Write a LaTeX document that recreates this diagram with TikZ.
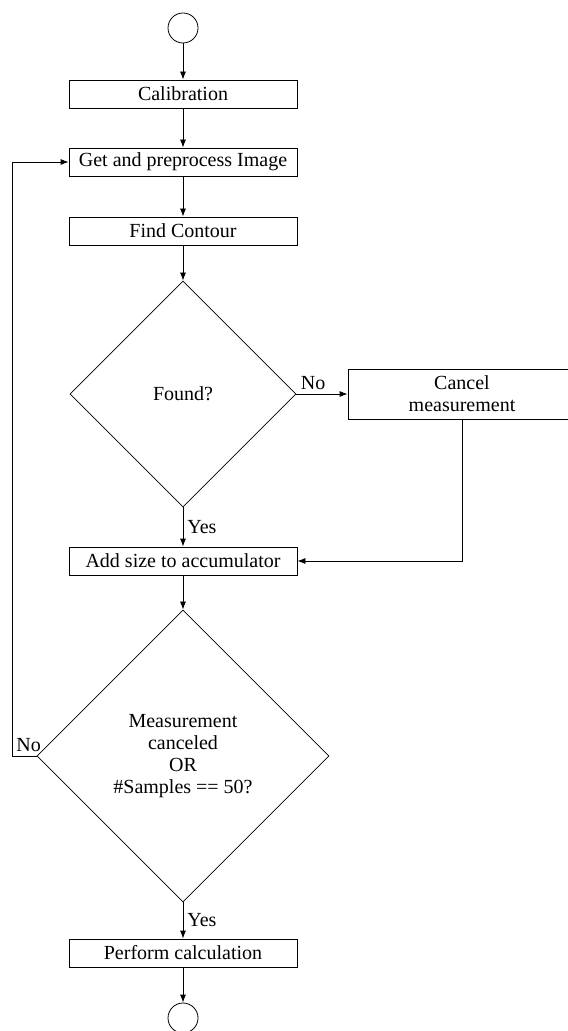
\documentclass[tikz,border=0pt]{standalone}
\usepackage{fontspec}
\setmainfont{Liberation Serif}
\usetikzlibrary{arrows.meta, shapes.geometric, positioning}

\begin{document}
\begin{tikzpicture}[x=0.5pt, y=-0.5pt, >={Latex[length=4pt, width=3pt]},
                font=\fontsize{10pt}{11pt}\selectfont,
                term/.style={circle, draw, minimum size=15pt, inner sep=0pt},
                proc/.style={rectangle, draw, minimum width=114pt, minimum height=14pt, inner sep=1pt},
                decide/.style={diamond, draw, align=center, inner sep=0pt}]
                \def\cx{183}
                \useasboundingbox (0, 0) rectangle (567, 1031);

                \node (start) at (\cx, 28)[term]{};
                \node (calib) at (\cx, 94)[proc]{Calibration};
                \node (getimg) at (\cx, 162)[proc]{Get and preprocess Image};
                \node (contour) at (\cx, 231)[proc]{Find Contour};
                \node (found) at (\cx, 394)[decide, minimum width=113pt, minimum height=113pt]{Found?};
                \node (cancel) at (462, 394)[proc, minimum width=114pt, minimum height=25pt, align=center]{Cancel\\measurement};
                \node (accum) at (\cx, 561)[proc]{Add size to accumulator};
                \node (check) at (\cx, 756)[decide, minimum width=146pt, minimum height=146pt]
                    {Measurement\\canceled\\OR\\\#Samples == 50?};
                \node (calc) at (\cx, 953)[proc]{Perform calculation};
                \node (stop) at (\cx, 1018)[term]{};

                \draw[->] (start) -- (calib);
                \draw[->] (calib) -- (getimg);
                \draw[->] (getimg) -- (contour);
                \draw[->] (contour) -- (found);
                \draw[->] (found) -- (cancel) node[pos=0, above right, inner sep=2pt] {No};
                \draw[->] (found) -- (accum) node[midway, right, inner sep=2pt] {Yes};
                \draw[->] (cancel.south) |- (accum.east);
                \draw[->] (accum) -- (check);
                \draw[->] (check.west) -- ++(-24, 0) node[midway, above, xshift=2pt, inner sep=2pt] {No}
                    |- (getimg.west);
                \draw[->] (check) -- (calc) node[midway, right, inner sep=2pt] {Yes};
                \draw[->] (calc) -- (stop);
\end{tikzpicture}
\end{document}
